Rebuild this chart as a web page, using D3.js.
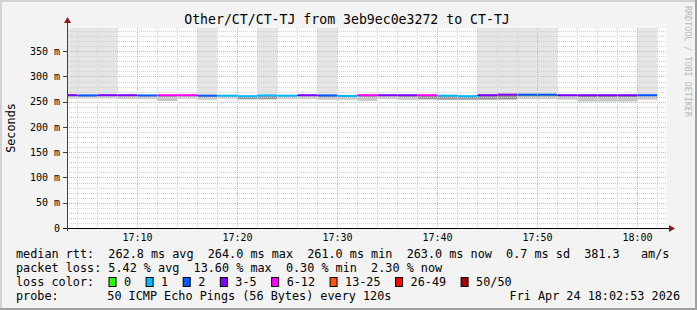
<!DOCTYPE html>
<html>
<head>
<meta charset="utf-8">
<script src="https://cdn.jsdelivr.net/npm/d3@7/dist/d3.min.js"></script>
<style>
html, body { margin:0; padding:0; background:#f3f3f3; }
svg text { font-family:"DejaVu Sans Mono", monospace; white-space:pre; }
</style>
</head>
<body>
<svg></svg>
<script>
var width = 697,
    height = 310;

// 2 minute steps, start time of each step
var stepStart = ["17:02","17:04","17:06","17:08","17:10","17:12","17:14","17:16","17:18","17:20",
                 "17:22","17:24","17:26","17:28","17:30","17:32","17:34","17:36","17:38","17:40",
                 "17:42","17:44","17:46","17:48","17:50","17:52","17:54","17:56","17:58","18:00"];
// median rtt (ms)
var median = [263,262.5,263,263,262.5,263,263,262,262,261,
              262.5,262,263,262.5,261.5,263,263,263,263,262,
              261,263,264,264,264,263,263,263,263,263];
// lost pings out of 50
var loss = [4,2,3,4,2,7,6,2,1,1,
            1,1,3,2,1,6,4,3,7,1,
            1,3,4,2,2,3,4,3,3,2];
// smoke: outer band (min .. max), mid band and dark band bottoms (ms)
var smokeMax = [430,430,430,264,264,264,264,430,264,264,
                430,264,264,430,264,264,264,264,264,264,
                264,430,450,430,430,265,265,265,265,430];
var smokeMin = [255.5,255.5,255.5,255.5,254.5,251.5,255.5,253.5,255.5,253.5,
                253.5,254.5,254.5,253.5,253.5,251.5,254.5,253.5,253.5,253.5,
                253.5,253.5,253.5,254.5,254.5,253.5,249,249,249,253.5];
var midLo = [258,258,258,256,256,251.5,257,254.5,257,255,
             255,256,256,254.5,254.5,252,256,254.5,254.5,254.5,
             254.5,254.5,254.5,256,256,255,251,251,251,255];
var darkLo = [262,261,262,261,261,260,261,260,261,255.5,
              255.5,261,261,260,260,260,261,260,255.5,254.5,
              254.5,254.5,255,261,261,261,259,259,259,261];

var lossLabels = ["0","1","2","3-5","6-12","13-25","26-49","50/50"];
var lossColors = ["#26ff00","#00b8ff","#0059ff","#7e00ff","#ff00ff","#ff5500","#ff0000","#a00000"];
var lossBreaks = [1,2,3,6,13,26,50];

var yTicks = [0,50,100,150,200,250,300,350];
var yMax = 396;

var legendRows = [
    "median rtt:  262.8 ms avg  264.0 ms max  261.0 ms min  263.0 ms now  0.7 ms sd  381.3   am/s",
    "packet loss: 5.42 % avg  13.60 % max  0.30 % min  2.30 % now"
];
var probeText = "50 ICMP Echo Pings (56 Bytes) every 120s";
var stampText = "Fri Apr 24 18:02:53 2026";
var titleText = "Other/CT/CT-TJ from 3eb9ec0e3272 to CT-TJ";

var parseT = d3.timeParse("%H:%M");
var steps = stepStart.map(function(s, i) {
    var t0 = parseT(s);
    return { t0: t0, t1: d3.timeMinute.offset(t0, 2), med: median[i], loss: loss[i],
             max: smokeMax[i], min: smokeMin[i], mid: midLo[i], dark: darkLo[i] };
});

var pL = 67, pR = 667, pT = 28, pB = 228;
var x = d3.scaleTime().domain([parseT("17:03"), parseT("18:03")]).range([pL, pR]);
var y = d3.scaleLinear().domain([0, yMax]).range([pB, pT]);
var lossColor = d3.scaleThreshold().domain(lossBreaks).range(lossColors);

var svg = d3.select("svg").attr("width", width).attr("height", height);

// background + frame
svg.append("rect").attr("width", width).attr("height", height).attr("fill", "#f3f3f3");
svg.append("path").attr("d", "M0,310V0H697").attr("fill", "none").attr("stroke", "#d2d2d2").attr("stroke-width", 4);
svg.append("path").attr("d", "M697,0V310H0").attr("fill", "none").attr("stroke", "#a0a0a0").attr("stroke-width", 4);

svg.append("defs").append("clipPath").attr("id", "plot")
    .append("rect").attr("x", pL).attr("y", pT).attr("width", pR - pL).attr("height", pB - pT);

svg.append("rect").attr("x", pL).attr("y", pT).attr("width", pR - pL).attr("height", pB - pT)
    .attr("fill", "#ffffff");

var plot = svg.append("g").attr("clip-path", "url(#plot)");

// smoke
function band(lo, color) {
    plot.append("g").selectAll("rect").data(steps).enter()
        .append("rect")
            .attr("x", function(d) { return x(d.t0); })
            .attr("width", function(d) { return x(d.t1) - x(d.t0); })
            .attr("y", function(d) { return y(lo === "min" ? Math.min(d.max, yMax + 10) : d.med); })
            .attr("height", function(d) {
                var hi = lo === "min" ? Math.min(d.max, yMax + 10) : d.med;
                return Math.max(0, y(d[lo]) - y(hi));
            })
            .attr("fill", color);
}
band("min", "#e5e5e5");
band("mid", "#c6c6c6");
band("dark", "#939393");

// grid
var minorY = y.ticks(40).filter(function(v) { return v % 50 !== 0; });
var majorX = x.ticks(d3.timeMinute.every(10));
var minorX = x.ticks(d3.timeMinute.every(2)).filter(function(t) { return t.getMinutes() % 10 !== 0; });

var grid = svg.append("g").attr("fill", "none").attr("stroke-width", 1).attr("stroke-dasharray", "1,1");
grid.selectAll(".hy").data(minorY).enter().append("line")
    .attr("x1", pL).attr("x2", pR)
    .attr("y1", function(d) { return Math.round(y(d)) + 0.5; })
    .attr("y2", function(d) { return Math.round(y(d)) + 0.5; })
    .attr("stroke", "#d2d2d2");
grid.selectAll(".vx").data(minorX).enter().append("line")
    .attr("x1", function(d) { return Math.round(x(d)) + 0.5; })
    .attr("x2", function(d) { return Math.round(x(d)) + 0.5; })
    .attr("y1", pT).attr("y2", pB)
    .attr("stroke", "#d2d2d2");
grid.selectAll(".my").data(yTicks.slice(1)).enter().append("line")
    .attr("x1", pL).attr("x2", pR)
    .attr("y1", function(d) { return Math.round(y(d)) + 0.5; })
    .attr("y2", function(d) { return Math.round(y(d)) + 0.5; })
    .attr("stroke", "#f0a8a8");
grid.selectAll(".mx").data(majorX).enter().append("line")
    .attr("x1", function(d) { return Math.round(x(d)) + 0.5; })
    .attr("x2", function(d) { return Math.round(x(d)) + 0.5; })
    .attr("y1", pT).attr("y2", pB)
    .attr("stroke", "#f0a8a8");

// median line coloured by loss
plot.append("g").selectAll("line").data(steps).enter()
    .append("line")
        .attr("x1", function(d) { return x(d.t0); })
        .attr("x2", function(d) { return x(d.t1); })
        .attr("y1", function(d) { return y(d.med); })
        .attr("y2", function(d) { return y(d.med); })
        .attr("stroke", function(d) { return lossColor(d.loss); })
        .attr("stroke-width", 2);

// axes
var xAxis = svg.append("g").attr("transform", "translate(0," + pB + ")")
    .call(d3.axisBottom(x).tickValues(majorX).tickFormat(d3.timeFormat("%H:%M")).tickSize(0));
xAxis.select(".domain").remove();
xAxis.attr("font-family", null).attr("font-size", 10);
xAxis.selectAll("text").attr("dy", null).attr("y", 13).attr("fill", "#000");

var yAxis = svg.append("g").attr("transform", "translate(" + pL + ",0)")
    .call(d3.axisLeft(y).tickValues(yTicks).tickSize(0).tickPadding(7)
        .tickFormat(function(d) { return d === 0 ? "0" : d + " m"; }));
yAxis.select(".domain").remove();
yAxis.attr("font-family", null).attr("font-size", 10);
yAxis.selectAll("text").attr("fill", "#000");

svg.append("g").selectAll("line").data(yTicks).enter().append("line")
    .attr("x1", pL - 4).attr("x2", pL)
    .attr("y1", function(d) { return Math.round(y(d)) + 0.5; })
    .attr("y2", function(d) { return Math.round(y(d)) + 0.5; })
    .attr("stroke", "#404040");

svg.append("line").attr("x1", pL - 4).attr("x2", pR + 2).attr("y1", pB + 0.5).attr("y2", pB + 0.5)
    .attr("stroke", "#000");
svg.append("line").attr("x1", pL + 0.5).attr("x2", pL + 0.5).attr("y1", pB + 3).attr("y2", pT - 5)
    .attr("stroke", "#404040");
svg.append("path").attr("d", "M" + (pR + 2) + "," + (pB - 3) + "l6,3.5l-6,3.5z").attr("fill", "#8b1a1a");
svg.append("path").attr("d", "M" + (pL - 3) + "," + (pT - 5) + "l3.5,-6l3.5,6z").attr("fill", "#8b1a1a");

// texts
svg.append("text").attr("x", 347).attr("y", 24).attr("text-anchor", "middle")
    .attr("font-size", 13.2).text(titleText);
svg.append("text").attr("transform", "translate(15,128) rotate(-90)").attr("text-anchor", "middle")
    .attr("font-size", 11.8).text("Seconds");
svg.append("text").attr("transform", "translate(685,6) rotate(90)")
    .attr("font-size", 8.4).attr("fill", "#b8b8b8").text("RRDTOOL / TOBI OETIKER");

var legend = svg.append("g").attr("font-size", 11.8);
legend.selectAll(".row").data(legendRows).enter().append("text")
    .attr("x", 16).attr("y", function(d, i) { return 258 + i * 14; }).text(function(d) { return d; });
legend.append("text").attr("x", 16).attr("y", 286).text("loss color:");
legend.append("text").attr("x", 16).attr("y", 300).text("probe:");
legend.append("text").attr("x", 107.3).attr("y", 300).text(probeText);
legend.append("text").attr("x", 680).attr("y", 300).attr("text-anchor", "end").text(stampText);

var lx = 108.5;
lossLabels.forEach(function(lab, i) {
    legend.append("rect").attr("x", lx + 0.5).attr("y", 277.5).attr("width", 7).attr("height", 9)
        .attr("fill", lossColors[i]).attr("stroke", "#000");
    var t = legend.append("text").attr("x", lx + 15.5).attr("y", 286).text(lab);
    lx = lx + 15.5 + t.node().getComputedTextLength() + 14.5;
});
</script>
</body>
</html>
